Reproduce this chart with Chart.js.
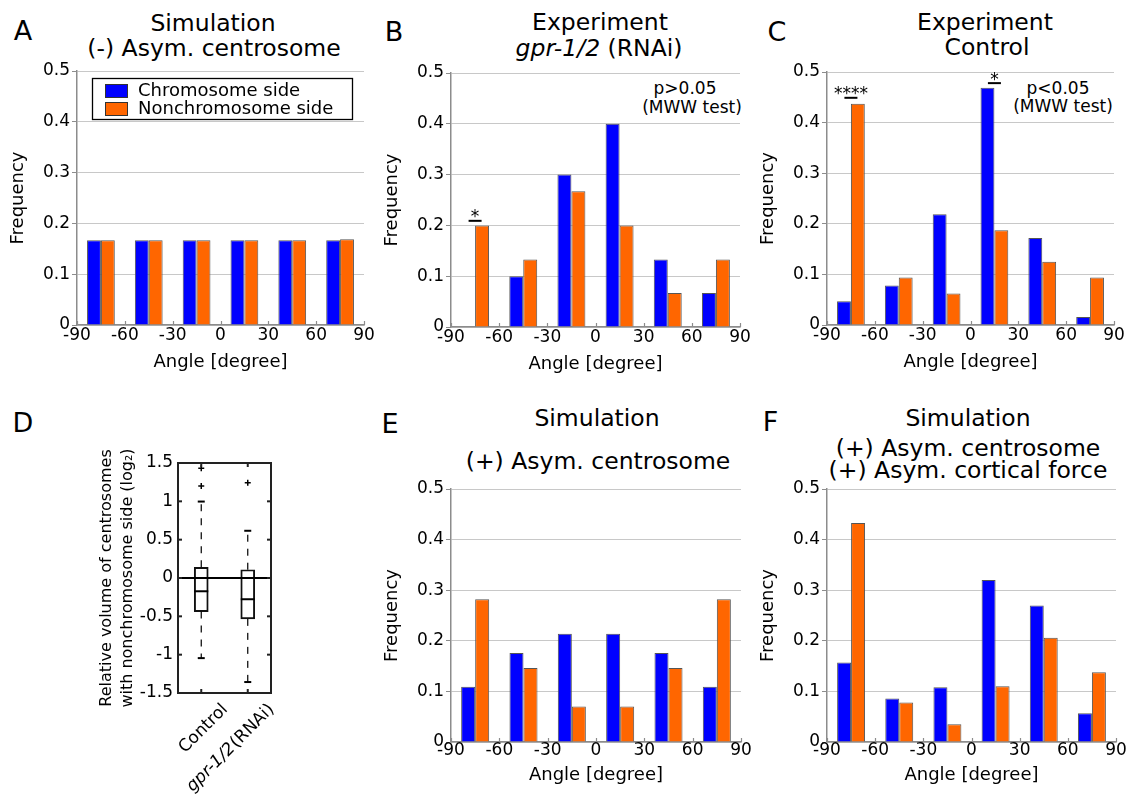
<!DOCTYPE html>
<html><head><meta charset="utf-8">
<script src="https://cdn.jsdelivr.net/npm/chart.js@4.4.1/dist/chart.umd.min.js"></script>
<style>
html,body{margin:0;padding:0;background:#fff;}
#fig{position:relative;width:1131px;height:796px;overflow:hidden;font-family:"DejaVu Sans",sans-serif;color:#000;}
.t{position:absolute;white-space:nowrap;line-height:1;transform:translate(-50%,-50%);}
.ttl{font-size:23.5px;}
.lt{font-size:27px;}
.ann{font-size:17px;}
canvas{position:absolute;}
</style></head>
<body><div id="fig">
<div class="t lt" style="left:23px;top:30px">A</div>
<div class="t lt" style="left:394px;top:31px">B</div>
<div class="t lt" style="left:777px;top:30.5px">C</div>
<div class="t lt" style="left:23px;top:422px">D</div>
<div class="t lt" style="left:390px;top:423px">E</div>
<div class="t lt" style="left:770.5px;top:421px">F</div>

<div class="t ttl" style="left:213px;top:23.5px">Simulation</div>
<div class="t ttl" style="left:214px;top:48.5px">(-) Asym. centrosome</div>
<div class="t ttl" style="left:600px;top:22.5px">Experiment</div>
<div class="t ttl" style="left:599px;top:48.5px"><i>gpr-1/2</i> (RNAi)</div>
<div class="t ttl" style="left:985px;top:22.5px">Experiment</div>
<div class="t ttl" style="left:987px;top:47.5px">Control</div>
<div class="t ttl" style="left:597px;top:419px">Simulation</div>
<div class="t ttl" style="left:598px;top:462px">(+) Asym. centrosome</div>
<div class="t ttl" style="left:968px;top:418.5px">Simulation</div>
<div class="t ttl" style="left:968px;top:449px">(+) Asym. centrosome</div>
<div class="t ttl" style="left:968px;top:470.5px">(+) Asym. cortical force</div>

<div class="t ann" style="left:685px;top:88px">p&gt;0.05</div>
<div class="t ann" style="left:692px;top:107px">(MWW test)</div>
<div class="t ann" style="left:1058px;top:88px">p&lt;0.05</div>
<div class="t ann" style="left:1063px;top:106px">(MWW test)</div>
</div>
<script>
// ---------- data ----------
const binCenters = [-75, -45, -15, 15, 45, 75];
const angleTicks = [-90, -60, -30, 0, 30, 60, 90];
const freqTicks = [0, 0.1, 0.2, 0.3, 0.4, 0.5];
const seriesNames = ['Chromosome side', 'Nonchromosome side'];

const aChrom    = [0.167, 0.167, 0.167, 0.167, 0.167, 0.167];
const aNonchrom = [0.167, 0.167, 0.167, 0.167, 0.167, 0.169];
const bChrom    = [0, 0.1, 0.3, 0.4, 0.133, 0.067];
const bNonchrom = [0.2, 0.133, 0.267, 0.2, 0.067, 0.133];
const cChrom    = [0.047, 0.078, 0.219, 0.469, 0.172, 0.016];
const cNonchrom = [0.4375, 0.094, 0.0625, 0.1875, 0.125, 0.094];
const eChrom    = [0.109, 0.176, 0.214, 0.214, 0.176, 0.109];
const eNonchrom = [0.282, 0.146, 0.070, 0.070, 0.146, 0.282];
const fChrom    = [0.157, 0.086, 0.108, 0.320, 0.270, 0.057];
const fNonchrom = [0.433, 0.078, 0.035, 0.110, 0.206, 0.138];

const bSigBins = [-75];       const bSigLevels = [0.209];        const bSigTexts = ['*'];
const cSigBins = [-75, 15];   const cSigLevels = [0.449, 0.478]; const cSigTexts = ['****', '*'];

const boxGroups   = ['Control', 'gpr-1/2(RNAi)'];
const boxQ1       = [-0.438, -0.533];
const boxMedian   = [-0.173, -0.277];
const boxQ3       = [0.139, 0.108];
const whiskerLow  = [-1.045, -1.357];
const whiskerHigh = [0.997, 0.616];
const outlierGroup = ['Control', 'Control', 'gpr-1/2(RNAi)'];
const outlierValue = [1.43, 1.20, 1.244];
const volTicks = [-1.5, -1, -0.5, 0, 0.5, 1, 1.5];

// ---------- style ----------
const FONT = "'DejaVu Sans', sans-serif";
Chart.defaults.font.family = FONT;
Chart.defaults.color = '#000';
const BLUE = '#0000ff', ORANGE = '#ff6600', EDGE = '#555555';
const GRID = '#c8c8c8', AXIS = '#8c8c8c';
const fig = document.getElementById('fig');

function makeCanvas(id, left, top, w, h) {
  const c = document.createElement('canvas');
  c.id = id; c.width = w; c.height = h;
  c.style.left = left + 'px'; c.style.top = top + 'px';
  c.style.width = w + 'px'; c.style.height = h + 'px';
  fig.appendChild(c);
  return c;
}
function seg(ctx, x1, y1, x2, y2) { ctx.beginPath(); ctx.moveTo(x1, y1); ctx.lineTo(x2, y2); ctx.stroke(); }

const innerTicksPlugin = {
  id: 'innerTicks',
  afterDatasetsDraw(chart, args, opts) {
    if (!opts || !opts.values) return;
    const {ctx, chartArea} = chart, xs = chart.scales.x;
    ctx.save(); ctx.strokeStyle = AXIS; ctx.lineWidth = 1.2;
    opts.values.forEach(v => {
      const px = Math.round(xs.getPixelForValue(v)) + 0.5;
      seg(ctx, px, chartArea.bottom, px, chartArea.bottom - 4);
    });
    ctx.restore();
  }
};

const sigPlugin = {
  id: 'sigMarks',
  afterDatasetsDraw(chart, args, opts) {
    if (!opts || !opts.bins) return;
    const {ctx} = chart, xs = chart.scales.x, ys = chart.scales.y;
    ctx.save();
    opts.bins.forEach((b, i) => {
      const px = xs.getPixelForValue(b), py = ys.getPixelForValue(opts.levels[i]);
      ctx.strokeStyle = '#000'; ctx.lineWidth = 2;
      seg(ctx, px - 6.5, py, px + 6.5, py);
      ctx.font = '17px ' + FONT; ctx.fillStyle = '#000';
      ctx.textAlign = 'center'; ctx.textBaseline = 'alphabetic';
      const m = ctx.measureText(opts.texts[i]);
      const center = py - 7;
      ctx.fillText(opts.texts[i], px, center + (m.actualBoundingBoxAscent - m.actualBoundingBoxDescent) / 2);
    });
    ctx.restore();
  }
};

const legendPlugin = {
  id: 'insideLegend',
  afterDraw(chart, args, opts) {
    if (!opts || !opts.show) return;
    const {ctx, chartArea} = chart;
    const x0 = chartArea.left + 15, y0 = chartArea.top + 7, w = 260, h = 41;
    ctx.save();
    ctx.fillStyle = '#fff'; ctx.fillRect(x0, y0, w, h);
    ctx.strokeStyle = '#000'; ctx.lineWidth = 1.3; ctx.strokeRect(x0 + 0.5, y0 + 0.5, w, h);
    chart.data.datasets.forEach((ds, i) => {
      const ry = y0 + 6 + i * 18;
      ctx.fillStyle = ds.backgroundColor; ctx.fillRect(x0 + 13, ry, 23, 14);
      ctx.strokeStyle = '#333'; ctx.lineWidth = 1; ctx.strokeRect(x0 + 13.5, ry + 0.5, 22, 13);
      ctx.fillStyle = '#000'; ctx.font = '18px ' + FONT;
      ctx.textAlign = 'left'; ctx.textBaseline = 'middle';
      ctx.fillText(ds.label, x0 + 46, ry + 7.5);
    });
    ctx.restore();
  }
};

function histogram(id, g, chrom, nonchrom, extra) {
  const cl = g.L - 77, ct = g.T - 14;
  const w = g.R - cl + 18, h = g.B - ct + g.axisH;
  const canvas = makeCanvas(id, cl, ct, w, h);
  const mk = (label, vals, color) => ({
    label, data: binCenters.map((c, i) => ({x: c, y: vals[i]})),
    backgroundColor: color, borderColor: EDGE, borderWidth: 1,
    categoryPercentage: 0.58, barPercentage: 1
  });
  return new Chart(canvas, {
    type: 'bar',
    data: {datasets: [mk(seriesNames[0], chrom, BLUE), mk(seriesNames[1], nonchrom, ORANGE)]},
    options: {
      responsive: false, animation: false, events: [],
      layout: {padding: {left: 0, top: 14, right: 18, bottom: 0}},
      plugins: {
        legend: {display: false}, tooltip: {enabled: false},
        innerTicks: {values: angleTicks},
        sigMarks: extra.sig || {},
        insideLegend: {show: !!extra.legend}
      },
      scales: {
        x: {
          type: 'linear', min: -90, max: 90, offset: false,
          afterBuildTicks(s) { s.ticks = angleTicks.map(v => ({value: v})); },
          ticks: {font: {size: 17, lineHeight: 1}, padding: g.tickPad, maxRotation: 0, autoSkip: false},
          grid: {display: false, drawTicks: false},
          border: {display: true, color: AXIS, width: 1.5},
          title: {display: true, text: 'Angle [degree]', font: {size: 18, lineHeight: 1.2}, padding: {top: 0, bottom: 4}},
          afterFit(s) { s.height = g.axisH; }
        },
        y: {
          min: 0, max: 0.5,
          afterBuildTicks(s) { s.ticks = freqTicks.map(v => ({value: v})); },
          ticks: {font: {size: 17, lineHeight: 1}, padding: 2},
          grid: {color: GRID, lineWidth: 1, drawTicks: true, tickLength: 5, tickColor: AXIS},
          border: {display: true, color: AXIS, width: 1.5},
          title: {display: true, text: 'Frequency', font: {size: 18, lineHeight: 1.2}, padding: {top: 8, bottom: 0}},
          afterFit(s) { s.width = 77; }
        }
      }
    },
    plugins: [innerTicksPlugin, sigPlugin, legendPlugin]
  });
}

histogram('panelA', {L: 77, R: 364, T: 71, B: 325, axisH: 52, tickPad: 2.5}, aChrom, aNonchrom, {legend: true});
histogram('panelB', {L: 451, R: 740, T: 73, B: 327, axisH: 52, tickPad: 2.5}, bChrom, bNonchrom,
  {sig: {bins: bSigBins, levels: bSigLevels, texts: bSigTexts}});
histogram('panelC', {L: 827, R: 1114, T: 72, B: 325, axisH: 52, tickPad: 2.5}, cChrom, cNonchrom,
  {sig: {bins: cSigBins, levels: cSigLevels, texts: cSigTexts}});
histogram('panelE', {L: 451, R: 741, T: 489, B: 742, axisH: 48, tickPad: 0}, eChrom, eNonchrom, {});
histogram('panelF', {L: 827, R: 1116, T: 489, B: 742, axisH: 48, tickPad: 0}, fChrom, fNonchrom, {});

// ---------- panel D: box plot ----------
const boxDecorPlugin = {
  id: 'boxDecor',
  afterDatasetsDraw(chart) {
    const {ctx, chartArea: a} = chart, xs = chart.scales.x, ys = chart.scales.y;
    ctx.save();
    ctx.strokeStyle = '#000';
    boxGroups.forEach((g, i) => {
      const cx = xs.getPixelForValue(i);
      const yMed = ys.getPixelForValue(boxMedian[i]);
      const yQ1 = ys.getPixelForValue(boxQ1[i]), yQ3 = ys.getPixelForValue(boxQ3[i]);
      const yLo = ys.getPixelForValue(whiskerLow[i]), yHi = ys.getPixelForValue(whiskerHigh[i]);
      ctx.lineWidth = 2; seg(ctx, cx - 7, yMed, cx + 7, yMed);
      ctx.lineWidth = 1.2; ctx.setLineDash([7, 7]);
      seg(ctx, cx, yQ3, cx, yHi); seg(ctx, cx, yQ1, cx, yLo);
      ctx.setLineDash([]);
      ctx.lineWidth = 2; seg(ctx, cx - 3.5, yHi, cx + 3.5, yHi); seg(ctx, cx - 3.5, yLo, cx + 3.5, yLo);
    });
    const y0 = ys.getPixelForValue(0);
    ctx.lineWidth = 2; seg(ctx, a.left, y0, a.right, y0);
    ctx.strokeStyle = '#222'; ctx.lineWidth = 2;
    ctx.strokeRect(a.left, a.top, a.right - a.left, a.bottom - a.top);
    volTicks.forEach(v => {
      const py = ys.getPixelForValue(v);
      seg(ctx, a.left, py, a.left + 4, py); seg(ctx, a.right, py, a.right - 4, py);
    });
    boxGroups.forEach((g, i) => {
      const px = xs.getPixelForValue(i);
      seg(ctx, px, a.top, px, a.top + 4); seg(ctx, px, a.bottom, px, a.bottom - 4);
    });
    // rotated category labels
    ctx.fillStyle = '#000'; ctx.textBaseline = 'middle'; ctx.textAlign = 'right';
    boxGroups.forEach((g, i) => {
      const px = xs.getPixelForValue(i);
      ctx.save();
      ctx.translate(px + 24, a.bottom + 14);
      ctx.rotate(-Math.PI / 4);
      const m = g.match(/^(gpr-1\/2)(.*)$/);
      if (m) {
        ctx.font = '17px ' + FONT;
        const wRest = ctx.measureText(m[2]).width;
        ctx.fillText(m[2], 0, 0);
        ctx.font = 'italic 17px ' + FONT;
        ctx.fillText(m[1], -wRest - 1, 0);
      } else {
        ctx.font = '17px ' + FONT;
        ctx.fillText(g, 0, 0);
      }
      ctx.restore();
    });
    ctx.restore();
  }
};

const dCanvas = makeCanvas('panelD', 90, 448, 201, 348);
new Chart(dCanvas, {
  type: 'bar',
  data: {
    labels: boxGroups,
    datasets: [
      {type: 'bar', label: 'Interquartile range', data: boxGroups.map((g, i) => [boxQ1[i], boxQ3[i]]),
       backgroundColor: 'rgba(255,255,255,0)', borderColor: '#111', borderWidth: 1.3, borderSkipped: false, barThickness: 14},
      {type: 'line', label: 'Outliers', data: outlierGroup.map((g, i) => ({x: g, y: outlierValue[i]})),
       showLine: false, pointStyle: 'cross', pointRadius: 3, pointBorderWidth: 1.5, pointBorderColor: '#000', borderColor: '#000'}
    ]
  },
  options: {
    responsive: false, animation: false, events: [],
    layout: {padding: {left: 0, top: 15, right: 20, bottom: 0}},
    plugins: {legend: {display: false}, tooltip: {enabled: false}},
    scales: {
      x: {type: 'category', offset: true, ticks: {display: false}, grid: {display: false, drawTicks: false},
          border: {display: false}, afterFit(s) { s.height = 103; }},
      y: {min: -1.5, max: 1.5,
          afterBuildTicks(s) { s.ticks = volTicks.map(v => ({value: v})); },
          ticks: {font: {size: 17, lineHeight: 1}, padding: 5, callback: v => String(v)},
          grid: {display: false, drawTicks: false}, border: {display: false},
          title: {display: true, text: ['Relative volume of centrosomes', 'with nonchromosome side (log\u2082)'],
                  font: {size: 16, lineHeight: 1.3125}, padding: {top: 6.5, bottom: 0}},
          afterFit(s) { s.width = 88; }}
    }
  },
  plugins: [boxDecorPlugin]
});
</script>
</body></html>
